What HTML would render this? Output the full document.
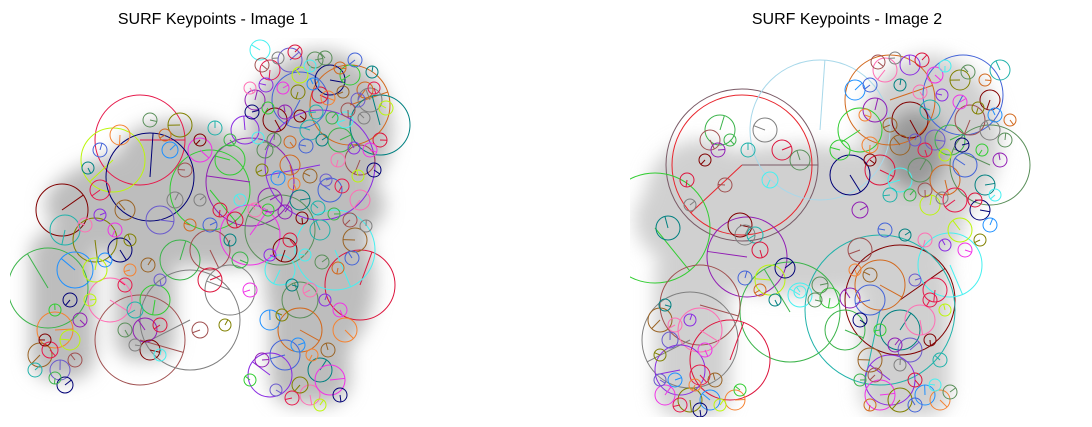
<!DOCTYPE html>
<html><head><meta charset="utf-8">
<style>
html,body{margin:0;padding:0;background:#fff;}
body{width:1092px;height:427px;overflow:hidden;font-family:"Liberation Sans","DejaVu Sans",sans-serif;}
svg{display:block}
</style></head>
<body>
<svg id="fig" width="1092" height="427" viewBox="0 0 1092 427" xmlns="http://www.w3.org/2000/svg">
<defs>
<filter id="blur" x="-20%" y="-20%" width="140%" height="140%"><feGaussianBlur stdDeviation="9"/></filter>
<clipPath id="clipL"><rect x="10" y="38" width="408" height="379"/></clipPath>
<clipPath id="clipR"><rect x="630" y="38" width="418" height="379"/></clipPath>
</defs>
<text x="213" y="24" font-size="16" text-anchor="middle" fill="#000">SURF Keypoints - Image 1</text>
<text x="847" y="24" font-size="16" text-anchor="middle" fill="#000">SURF Keypoints - Image 2</text>
<g id="panelL" clip-path="url(#clipL)">
 <g filter="url(#blur)" fill="#bdbdbd">
  <ellipse cx="215" cy="205" rx="170" ry="62"/>
  <ellipse cx="320" cy="130" rx="72" ry="80"/>
  <ellipse cx="320" cy="280" rx="55" ry="80"/>
  <rect x="270" y="290" width="80" height="115" rx="25"/>
  <rect x="30" y="230" width="65" height="150" rx="25"/>
  <rect x="115" y="240" width="60" height="120" rx="20"/>
  <ellipse cx="180" cy="150" rx="60" ry="30"/>
 </g>
 <g id="kpL"></g>
</g>
<g id="panelR" clip-path="url(#clipR)">
 <g filter="url(#blur)" fill="#d0d0d0">
  <ellipse cx="800" cy="220" rx="165" ry="75"/>
  <ellipse cx="930" cy="140" rx="70" ry="85"/>
  <rect x="655" y="250" width="75" height="167" rx="25"/>
  <rect x="860" y="250" width="90" height="167" rx="25"/>
  <ellipse cx="700" cy="200" rx="55" ry="60"/>
 </g>
 <g filter="url(#blur)" fill="#555" opacity="0.45">
  <ellipse cx="915" cy="150" rx="30" ry="40"/>
 </g>
 <g id="kpR"></g>
</g>
</svg>
<script>
// keypoints: [x, y, radius]
const keypointsImage1 = [
[140,140,45],[113,160,32],[150,177,44],[210,190,40],[250,182,44],[62,210,26],[65,230,15],[48,288,40],[140,340,45],[190,320,50],[360,285,35],[335,250,40],[280,230,35],[350,105,40],[300,100,28],[380,125,30],[110,300,22],[320,165,55],[250,235,30],[95,240,22],[75,270,18],[55,330,18],[40,355,12],[60,370,10],[50,350,8],[70,340,10],[65,385,8],[155,300,15],[145,330,12],[150,350,10],[135,310,8],[180,260,20],[210,250,20],[230,290,25],[210,280,12],[280,270,15],[300,300,18],[300,330,22],[285,355,15],[320,370,12],[310,395,10],[270,375,22],[330,380,15],[300,385,8],[270,320,10],[345,330,12],[355,240,12],[290,60,12],[270,70,10],[300,75,8],[330,80,15],[350,75,10],[255,100,10],[275,120,12],[310,130,10],[340,140,12],[360,160,15],[370,100,12],[320,95,8],[345,120,8],[265,150,8],[290,165,10],[330,190,12],[300,200,10],[360,200,10],[245,130,14],[200,150,12],[180,125,12],[170,150,8],[120,135,10],[125,210,10],[160,220,14],[100,190,10],[95,270,12],[120,250,12],[230,160,15],[270,200,12],[285,250,12],[320,230,10],[240,260,8],[200,330,8],[175,200,8],[235,220,8],[260,50,10],[315,60,8],[365,90,8]
];
const keypointsSmall1 = [
[262,65,7],[278,58,6],[295,52,7],[310,66,6],[325,58,7],[340,68,6],[355,60,7],[372,72,6],[250,88,6],[266,85,7],[283,88,6],[298,92,7],[313,84,6],[328,98,7],[343,92,6],[358,100,7],[374,88,6],[386,108,7],[252,112,7],[268,108,6],[285,112,7],[300,116,6],[316,112,7],[332,118,6],[348,110,7],[364,118,6],[380,140,7],[258,138,6],[274,140,7],[290,142,6],[306,146,7],[322,140,6],[338,160,7],[354,148,6],[370,150,7],[262,170,6],[278,178,7],[294,184,6],[310,176,7],[326,180,6],[342,186,7],[358,176,6],[374,170,7],[268,210,6],[285,212,7],[302,218,6],[318,208,7],[334,214,6],[350,220,7],[366,226,6],[290,240,7],[305,255,6],[322,262,7],[338,268,6],[352,258,7],[292,285,6],[310,290,7],[325,300,6],[340,310,7],[282,315,6],[298,345,7],[312,355,6],[328,350,7],[276,390,6],[292,398,7],[320,405,6],[340,395,7],[250,380,6],[262,360,7],[200,140,6],[215,128,7],[230,140,6],[185,170,7],[200,200,6],[220,210,7],[240,200,6],[150,120,7],[165,135,6],[100,150,7],[88,168,6],[85,225,7],[100,215,6],[115,230,7],[130,240,6],[105,260,7],[130,270,6],[148,265,7],[160,280,6],[125,285,7],[90,300,6],[70,300,7],[55,310,6],[80,320,7],[45,340,6],[35,370,7],[55,378,6],[75,360,7],[135,345,6],[160,325,7],[160,355,6],[125,330,7],[190,225,6],[210,225,7],[230,240,6],[255,210,7],[270,255,6],[250,290,7],[225,325,6]
];
const keypointsImage2 = [
[742,165,76],[742,165,70],[820,130,70],[655,228,55],[747,257,40],[900,300,55],[880,310,75],[790,312,50],[700,305,40],[690,340,48],[730,360,40],[950,265,32],[990,165,40],[890,100,45],[963,95,40],[668,228,12],[700,330,22],[680,370,25],[665,395,10],[690,400,12],[710,400,10],[735,400,10],[660,320,12],[670,340,8],[700,375,10],[770,280,15],[785,268,10],[830,298,10],[850,298,10],[740,225,12],[755,235,8],[720,130,15],[710,140,10],[765,130,12],[782,150,10],[770,180,8],[800,160,10],[880,285,25],[870,300,15],[900,330,20],[920,320,15],[890,380,25],[880,395,15],[900,400,12],[925,395,10],[940,400,10],[870,360,12],[910,350,12],[935,290,12],[960,230,12],[980,210,10],[860,130,22],[875,110,12],[910,120,18],[930,110,10],[950,140,15],[970,120,15],[990,130,10],[880,170,15],[900,180,12],[920,170,12],[945,180,15],[965,165,12],[985,185,10],[885,70,12],[910,65,10],[935,75,8],[960,80,10],[855,90,10],[870,145,8],[900,145,10],[935,140,10],[955,200,12],[930,205,10],[850,175,20],[840,150,10],[860,210,8],[990,100,10],[1000,70,10],[845,330,20],[860,250,12],[745,235,10],[760,250,8],[800,295,12],[820,285,8]
];
const keypointsSmall2 = [
[878,62,7],[895,58,6],[922,60,7],[945,66,6],[968,72,7],[985,80,6],[870,85,7],[900,85,6],[920,92,7],[942,95,6],[960,102,7],[978,108,6],[995,115,7],[865,115,6],[890,125,7],[915,140,6],[925,150,7],[945,155,6],[962,145,7],[982,150,6],[1000,160,7],[870,160,6],[890,195,7],[910,195,6],[925,190,7],[942,198,6],[975,200,7],[995,195,6],[1005,140,7],[1010,120,6],[885,230,7],[905,235,6],[925,240,7],[945,245,6],[965,250,7],[980,240,6],[990,225,7],[855,270,6],[870,275,7],[915,280,6],[930,300,7],[945,310,6],[860,320,7],[880,330,6],[895,345,7],[930,340,6],[940,360,7],[860,380,6],[875,375,7],[900,365,6],[915,380,7],[935,385,6],[950,392,7],[870,405,6],[915,405,7],[665,305,6],[675,325,7],[690,320,6],[705,350,7],[660,355,6],[675,380,7],[695,385,6],[715,380,7],[660,380,6],[680,405,7],[720,405,6],[700,410,7],[740,390,6],[718,150,7],[705,160,6],[748,150,7],[730,140,6],[725,185,7],[690,205,6],[687,180,7],[800,292,6],[815,300,7],[760,290,6],[745,278,7],[775,300,6]
];
const palette=["#e6194b","#3cb44b","#4363d8","#f58231","#911eb4","#46f0f0","#f032e6","#bcf60c","#a05050","#008080","#9a6324","#800000","#5a8f5a","#808000","#000075","#7f7f7f","#ff6eb4","#6a5acd","#20b2aa","#d2691e","#1e90ff","#32cd32","#dc143c","#8a2be2"];
const bigColors2=["#7a5a66","#e8262e","#a8d8ea"];
function drawKeypoints(gid, points, off, override){
  const g=document.getElementById(gid);
  const ns="http://www.w3.org/2000/svg";
  points.forEach((p,j)=>{
    const i=j+off;
    const col=(override && override[j]) ? override[j] : palette[(i*7)%palette.length];
    const c=document.createElementNS(ns,"circle");
    
    
    c.setAttribute("cx",p[0]);c.setAttribute("cy",p[1]);c.setAttribute("r",p[2]);
    c.setAttribute("fill","none");c.setAttribute("stroke",col);c.setAttribute("stroke-width","1");
    g.appendChild(c);
    const a=((i*137)%360)*Math.PI/180;
    const l=document.createElementNS(ns,"line");
    
    
    l.setAttribute("x1",p[0]);l.setAttribute("y1",p[1]);
    l.setAttribute("x2",p[0]+p[2]*Math.cos(a));l.setAttribute("y2",p[1]+p[2]*Math.sin(a));
    l.setAttribute("stroke",col);l.setAttribute("stroke-width","1");
    g.appendChild(l);
  });
}
drawKeypoints("kpL",keypointsImage1,0,null);
drawKeypoints("kpL",keypointsSmall1,200,null);
drawKeypoints("kpR",keypointsImage2,0,bigColors2);
drawKeypoints("kpR",keypointsSmall2,200,null);
</script>
</body></html>
